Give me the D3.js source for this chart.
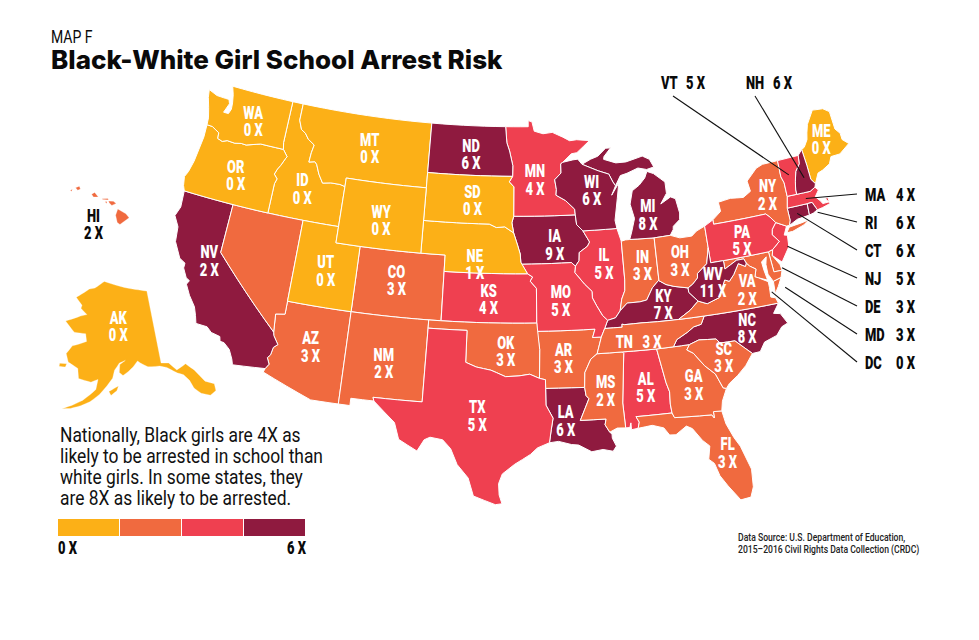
<!DOCTYPE html>
<html>
<head>
<meta charset="utf-8">
<script src="https://cdn.jsdelivr.net/npm/d3@7"></script>
<style>
  html, body { margin: 0; background: #fff; }
  text { font-family: Roboto, sans-serif; white-space: pre; }
  .title { font-family: Inter, sans-serif; font-weight: 800; font-size: 26px; fill: #0a0a0a; }
  .kicker { font-size: 18px; fill: #0a0a0a; }
  .tag { font-weight: 900; font-size: 18.5px; text-anchor: middle; }
  .callout { font-weight: 900; font-size: 18.5px; fill: #0a0a0a; }
  .note { font-size: 20px; fill: #111; }
  .source { font-size: 11.5px; font-weight: 500; fill: #222; }
</style>
</head>
<body>
<svg id="map" width="979" height="640"></svg>
<script>
// values
const stateIds = ["AK","AL","AR","AZ","CA","CO","CT","DC","DE","FL","GA","HI","IA","ID","IL","IN","KS","KY","LA","MA","MD","ME","MI","MN","MO","MS","MT","NC","ND","NE","NH","NJ","NM","NV","NY","OH","OK","OR","PA","RI","SC","SD","TN","TX","UT","VA","VT","WA","WI","WV","WY"];
const riskValues = [0,5,3,3,6,3,6,0,3,3,3,2,9,0,5,3,4,7,6,4,3,0,8,4,5,2,0,8,6,1,6,5,2,2,2,3,3,0,5,6,3,0,3,5,0,2,5,0,6,11,0];
const riskTicks = [2, 4, 6];
const riskColors = ["#fcb017", "#f06a3f", "#ef4050", "#8f1a3f"];
const legendLabels = ["0 X", "6 X"];
const noteLines = [
  "Nationally, Black girls are 4X as",
  "likely to be arrested in school than",
  "white girls. In some states, they",
  "are 8X as likely to be arrested."
];
const sourceLines = [
  "Data Source: U.S. Department of Education,",
  "2015–2016 Civil Rights Data Collection (CRDC)"
];

// state outlines as [lon, lat] rings, rough hand tracing
const shapes = {
  WA: [[[-122.76,49],[-117.03,49],[-117.04,46.42],[-116.92,46],[-118.98,46],[-119.3,45.93],[-120.2,45.72],[-120.65,45.74],[-121.2,45.65],[-121.9,45.68],[-122.3,45.55],[-122.75,45.65],[-122.8,46],[-123.2,46.15],[-123.5,46.26],[-124,46.27],[-124.05,46.7],[-124.3,47.3],[-124.6,47.9],[-124.73,48.38],[-123.9,48.17],[-123.1,48.15],[-122.75,48.15],[-122.6,47.9],[-122.9,47.3],[-122.45,47.3],[-122.3,47.6],[-122.35,48],[-122.5,48.5]]],
  OR: [[[-124,46.27],[-123.5,46.26],[-123.2,46.15],[-122.8,46],[-122.75,45.65],[-122.3,45.55],[-121.9,45.68],[-121.2,45.65],[-120.65,45.74],[-120.2,45.72],[-119.3,45.93],[-118.98,46],[-116.92,46],[-116.46,45.6],[-116.55,45.5],[-116.85,45],[-117.05,44.75],[-117.22,44.4],[-116.9,44.15],[-117.03,43.83],[-117.03,42],[-124.21,42],[-124.4,42.3],[-124.55,42.84],[-124.35,43.2],[-124.15,43.9],[-124.05,44.7],[-123.95,45.5]]],
  CA: [[[-124.21,42],[-120,42],[-120,39],[-114.63,35],[-114.57,34.8],[-114.14,34.3],[-114.43,34.08],[-114.53,33.6],[-114.72,33.4],[-114.5,33.03],[-114.72,32.72],[-117.12,32.53],[-117.25,32.85],[-117.6,33.4],[-118.1,33.73],[-118.4,33.75],[-118.5,34.03],[-119.2,34.15],[-119.6,34.42],[-120.47,34.45],[-120.65,34.9],[-120.9,35.4],[-121.5,36],[-121.95,36.6],[-121.8,36.85],[-122.1,36.97],[-122.5,37.5],[-122.5,37.8],[-123,38],[-123.7,38.9],[-123.85,39.8],[-124.35,40.4],[-124.1,41]]],
  NV: [[[-120,42],[-114.04,42],[-114.04,36.2],[-114.75,36.1],[-114.63,35],[-120,39]]],
  ID: [[[-117.03,49],[-116.05,49],[-116.05,47.97],[-115.72,47.43],[-115.3,47.25],[-114.95,46.93],[-114.33,46.65],[-114.45,46.15],[-114.5,45.56],[-114,45.65],[-113.8,45.52],[-113.45,44.95],[-113,44.45],[-112.3,44.55],[-111.5,44.55],[-111.05,44.47],[-111.05,42],[-117.03,42],[-117.03,43.83],[-116.9,44.15],[-117.22,44.4],[-117.05,44.75],[-116.85,45],[-116.55,45.5],[-116.46,45.6],[-116.92,46],[-117.04,46.42]]],
  MT: [[[-116.05,49],[-104.05,49],[-104.05,45],[-111.05,45],[-111.05,44.47],[-111.5,44.55],[-112.3,44.55],[-113,44.45],[-113.45,44.95],[-113.8,45.52],[-114,45.65],[-114.5,45.56],[-114.45,46.15],[-114.33,46.65],[-114.95,46.93],[-115.3,47.25],[-115.72,47.43],[-116.05,47.97]]],
  WY: [[[-111.05,45],[-104.05,45],[-104.05,41],[-111.05,41]]],
  UT: [[[-114.04,42],[-111.05,42],[-111.05,41],[-109.05,41],[-109.05,37],[-114.04,37]]],
  AZ: [[[-114.04,37],[-109.05,37],[-109.05,31.33],[-111.07,31.33],[-114.81,32.49],[-114.72,32.72],[-114.5,33.03],[-114.72,33.4],[-114.53,33.6],[-114.43,34.08],[-114.14,34.3],[-114.57,34.8],[-114.63,35],[-114.75,36.1],[-114.04,36.2]]],
  CO: [[[-109.05,41],[-102.05,41],[-102.05,37],[-109.05,37]]],
  NM: [[[-109.05,37],[-103,37],[-103.04,32],[-106.62,32],[-106.53,31.78],[-108.21,31.78],[-108.21,31.33],[-109.05,31.33]]],
  ND: [[[-104.05,49],[-97.23,49],[-97.1,48],[-96.85,47.5],[-96.55,46.6],[-96.56,45.94],[-104.05,45.94]]],
  SD: [[[-104.05,45.94],[-96.56,45.94],[-96.85,45.6],[-96.45,45.3],[-96.45,43.5],[-96.6,43.1],[-96.45,42.49],[-97.2,42.85],[-97.9,42.8],[-98.5,43],[-104.05,43]]],
  NE: [[[-104.05,43],[-98.5,43],[-97.9,42.8],[-97.2,42.85],[-96.45,42.49],[-96.1,41.7],[-95.9,41.2],[-95.85,40.7],[-95.31,40],[-102.05,40],[-102.05,41],[-104.05,41]]],
  KS: [[[-102.05,40],[-95.31,40],[-94.9,39.8],[-95.1,39.55],[-94.61,39.11],[-94.62,37],[-102.04,37]]],
  OK: [[[-103,37],[-94.62,37],[-94.43,35.4],[-94.48,33.64],[-95.2,33.9],[-96,33.8],[-97,33.75],[-97.65,33.98],[-98.1,34.13],[-99.2,34.3],[-100,34.56],[-100,36.5],[-103,36.5]]],
  TX: [[[-103,36.5],[-100,36.5],[-100,34.56],[-99.2,34.3],[-98.1,34.13],[-97.65,33.98],[-97,33.75],[-96,33.8],[-95.2,33.9],[-94.48,33.64],[-94.04,33.55],[-94.04,32],[-93.55,31.2],[-93.7,30.5],[-93.85,29.7],[-94.7,29.4],[-95.2,29],[-96.3,28.4],[-97.15,27.8],[-97.4,27.2],[-97.35,26.5],[-97.15,25.96],[-97.6,25.9],[-99.1,26.4],[-99.5,27.5],[-100.3,28.3],[-100.8,29.25],[-101.4,29.77],[-102.3,29.88],[-102.7,29.7],[-103.15,28.98],[-104.5,29.6],[-104.9,30.6],[-106.53,31.78],[-106.62,32],[-103.04,32]]],
  MN: [[[-97.23,49],[-95.15,49],[-95.15,49.38],[-94.8,49.3],[-94.6,48.72],[-93.8,48.55],[-92.95,48.62],[-92,48.3],[-91.4,48.06],[-90.75,48.1],[-89.6,48],[-90.8,47.3],[-91.3,47.25],[-92.1,46.75],[-92.29,46.66],[-92.29,46.1],[-92.87,45.7],[-92.75,45.1],[-92.8,44.75],[-92,44.4],[-91.25,43.85],[-91.22,43.5],[-96.45,43.5],[-96.45,45.3],[-96.85,45.6],[-96.56,45.94],[-96.55,46.6],[-96.85,47.5],[-97.1,48]]],
  IA: [[[-96.45,43.5],[-91.22,43.5],[-91.15,42.9],[-90.65,42.5],[-90.15,41.8],[-90.35,41.55],[-91.05,41.2],[-91.1,40.7],[-91.42,40.38],[-91.73,40.61],[-95.77,40.58],[-95.85,40.7],[-95.9,41.2],[-96.1,41.7],[-96.45,42.49],[-96.6,43.1]]],
  MO: [[[-95.77,40.58],[-91.73,40.61],[-91.42,40.38],[-91.5,40],[-90.75,39.25],[-90.2,38.8],[-90.2,38.4],[-89.9,37.9],[-89.5,37.3],[-89.13,36.98],[-89.4,36.5],[-89.7,36],[-90.37,36],[-90.15,36.5],[-94.62,36.5],[-94.62,37],[-94.61,39.11],[-95.1,39.55],[-94.9,39.8],[-95.31,40]]],
  AR: [[[-94.62,36.5],[-90.15,36.5],[-90.37,36],[-89.7,36],[-90.1,35],[-90.6,34.7],[-91.1,33.9],[-91.17,33],[-94.04,33.02],[-94.04,33.55],[-94.48,33.64],[-94.43,35.4]]],
  LA: [[[-94.04,33.02],[-91.17,33],[-91.1,32.5],[-90.9,32.3],[-91.6,31],[-89.75,31],[-89.85,30.65],[-89.55,30.18],[-89.4,30.05],[-89.4,29.8],[-89.15,29.3],[-89.4,29],[-90.1,29.15],[-90.9,29.05],[-91.8,29.5],[-92.3,29.55],[-93.2,29.77],[-93.85,29.7],[-93.7,30.5],[-93.55,31.2],[-94.04,32]]],
  MS: [[[-90.1,35],[-88.2,35],[-88.1,34.9],[-88.47,31.9],[-88.4,30.37],[-89,30.4],[-89.55,30.18],[-89.85,30.65],[-89.75,31],[-91.6,31],[-90.9,32.3],[-91.1,32.5],[-91.17,33],[-91.1,33.9],[-90.6,34.7]]],
  AL: [[[-88.2,35],[-85.6,34.98],[-85.18,32.87],[-85,32.3],[-85.05,31.55],[-85,31],[-87.6,31],[-87.4,30.65],[-87.52,30.28],[-88,30.23],[-88,30.65],[-88.1,30.37],[-88.4,30.37],[-88.47,31.9],[-88.1,34.9]]],
  TN: [[[-90.1,35],[-89.7,36],[-89.4,36.5],[-88.05,36.5],[-88.05,36.68],[-87.85,36.64],[-86.5,36.65],[-85.3,36.62],[-83.68,36.6],[-81.68,36.59],[-82,36.12],[-82.6,36.03],[-83.1,35.77],[-84,35.4],[-84.32,34.99],[-85.6,34.98],[-88.2,35]]],
  KY: [[[-89.4,36.5],[-89.13,36.98],[-88.5,37.1],[-88.1,37.5],[-87.5,37.93],[-86.5,37.93],[-85.95,38],[-85.4,38.7],[-84.85,39.1],[-84.3,38.8],[-83.7,38.63],[-82.6,38.42],[-82.6,38.15],[-81.97,37.54],[-82.7,37.05],[-83.68,36.6],[-85.3,36.62],[-86.5,36.65],[-87.85,36.64],[-88.05,36.68],[-88.05,36.5]]],
  IL: [[[-90.65,42.5],[-87.8,42.5],[-87.53,41.7],[-87.53,39.35],[-87.6,38.7],[-87.9,38.2],[-88.1,37.5],[-88.5,37.1],[-89.13,36.98],[-89.5,37.3],[-89.9,37.9],[-90.2,38.4],[-90.2,38.8],[-90.75,39.25],[-91.5,40],[-91.42,40.38],[-91.1,40.7],[-91.05,41.2],[-90.35,41.55],[-90.15,41.8]]],
  IN: [[[-87.53,41.7],[-87.2,41.76],[-86.82,41.76],[-84.8,41.7],[-84.82,39.1],[-84.85,39.1],[-85.4,38.7],[-85.95,38],[-86.5,37.93],[-87.5,37.93],[-88.1,37.5],[-87.9,38.2],[-87.6,38.7],[-87.53,39.35]]],
  OH: [[[-84.8,41.7],[-83.45,41.73],[-82.7,41.5],[-81.7,41.5],[-81.25,41.76],[-80.52,41.98],[-80.52,40.64],[-80.85,39.7],[-81.7,39.2],[-81.75,38.93],[-82.2,38.6],[-82.6,38.42],[-83.7,38.63],[-84.3,38.8],[-84.85,39.1],[-84.82,39.1]]],
  MI: [[[-86.82,41.76],[-84.8,41.7],[-83.45,41.73],[-83.15,42.05],[-83.1,42.25],[-82.5,42.6],[-82.42,43],[-82.6,43.9],[-83,44.05],[-83.9,43.7],[-83.3,44.3],[-83.3,45],[-84.2,45.6],[-84.75,45.78],[-85,45.4],[-85.55,45],[-86.2,44.7],[-86.5,43.9],[-86.25,43],[-86.6,42.2]],
       [[-90.4,46.57],[-89.6,46.85],[-88.95,47],[-88.2,47.45],[-87.75,47.45],[-88.4,46.95],[-88.45,46.78],[-87.4,46.5],[-86.5,46.5],[-85,46.75],[-84.4,46.5],[-84.1,46],[-84.75,45.9],[-85.5,46.05],[-86.5,45.8],[-87.1,45.7],[-87.6,45.1],[-87.8,45.35],[-88.1,45.85],[-89,46.1]]],
  WI: [[[-92.1,46.75],[-91.2,46.87],[-90.75,46.9],[-90.4,46.57],[-89,46.1],[-88.1,45.85],[-87.8,45.35],[-87.6,45.1],[-88,44.55],[-87.3,45.25],[-87.55,44.3],[-87.9,43],[-87.8,42.5],[-90.65,42.5],[-91.15,42.9],[-91.22,43.5],[-91.25,43.85],[-92,44.4],[-92.8,44.75],[-92.75,45.1],[-92.87,45.7],[-92.29,46.1],[-92.29,46.66]]],
  GA: [[[-85.6,34.98],[-84.32,34.99],[-83.1,35],[-83.35,34.7],[-82.9,34.45],[-82.2,33.6],[-81.5,33],[-81.1,32.1],[-80.87,32.03],[-81.3,31.3],[-81.45,30.72],[-82.05,30.75],[-82.05,30.36],[-82.2,30.57],[-84.86,30.7],[-85,31],[-85.05,31.55],[-85,32.3],[-85.18,32.87]]],
  FL: [[[-87.6,31],[-85,31],[-84.86,30.7],[-82.2,30.57],[-82.05,30.36],[-82.05,30.75],[-81.45,30.72],[-81.3,29.9],[-80.9,29],[-80.55,28.4],[-80.05,26.9],[-80.13,25.8],[-80.4,25.2],[-81.1,25.13],[-81.8,26.1],[-82.25,26.8],[-82.5,27.6],[-82.85,27.9],[-82.65,28.7],[-83.1,29.1],[-83.7,29.9],[-84.1,30.1],[-84.9,29.65],[-85.35,29.68],[-85.7,30.15],[-86.5,30.38],[-87.52,30.28],[-87.4,30.65]]],
  SC: [[[-83.1,35],[-82.35,35.2],[-81.05,35.1],[-80.8,34.82],[-79.67,34.8],[-78.55,33.86],[-79.2,33.2],[-79.9,32.7],[-80.6,32.3],[-80.87,32.03],[-81.1,32.1],[-81.5,33],[-82.2,33.6],[-82.9,34.45],[-83.35,34.7]]],
  NC: [[[-84.32,34.99],[-84,35.4],[-83.1,35.77],[-82.6,36.03],[-82,36.12],[-81.68,36.59],[-75.87,36.55],[-76.4,36],[-75.9,35.9],[-75.5,35.25],[-76,35.1],[-76.5,34.65],[-77.5,34.4],[-77.95,33.88],[-78.55,33.86],[-79.67,34.8],[-80.8,34.82],[-81.05,35.1],[-82.35,35.2],[-83.1,35]]],
  VA: [[[-83.68,36.6],[-81.68,36.59],[-75.87,36.55],[-76,36.9],[-76.35,37],[-76.3,37.6],[-76.3,37.95],[-77,38.3],[-77.25,38.4],[-77.05,38.85],[-77.5,39.1],[-77.72,39.32],[-77.83,39.13],[-78.35,39.38],[-78.87,38.77],[-79.3,38.42],[-79.65,38.55],[-80.3,37.55],[-81.3,37.3],[-81.97,37.54],[-82.7,37.05]],
       [[-75.25,38.03],[-75.9,37.9],[-75.95,37.15],[-75.6,37.55]]],
  WV: [[[-80.52,40.64],[-80.52,39.72],[-79.48,39.72],[-79.48,39.2],[-78.45,39.6],[-77.85,39.6],[-77.72,39.32],[-77.83,39.13],[-78.35,39.38],[-78.87,38.77],[-79.3,38.42],[-79.65,38.55],[-80.3,37.55],[-81.3,37.3],[-81.97,37.54],[-82.6,38.15],[-82.6,38.42],[-82.2,38.6],[-81.75,38.93],[-81.7,39.2],[-80.85,39.7]]],
  MD: [[[-79.48,39.72],[-75.79,39.72],[-75.7,38.46],[-75.05,38.45],[-75.25,38.03],[-75.9,37.9],[-76.2,38.4],[-76.2,39],[-76.05,39.45],[-76.5,39.2],[-76.45,38.7],[-76.32,38.05],[-77,38.3],[-77.25,38.4],[-77.05,38.85],[-77.5,39.1],[-77.72,39.32],[-77.85,39.6],[-78.45,39.6],[-79.48,39.2]]],
  DC: [[[-77.12,38.93],[-77.04,39],[-76.91,38.89],[-77.04,38.79]]],
  DE: [[[-75.79,39.72],[-75.42,39.8],[-75.55,39.45],[-75.1,38.8],[-75.05,38.45],[-75.7,38.46]]],
  PA: [[[-80.52,41.98],[-79.76,42.27],[-79.76,42],[-75.35,42],[-75.05,41.75],[-74.7,41.36],[-75.1,41],[-75.2,40.68],[-74.75,40.2],[-75.42,39.8],[-75.79,39.72],[-80.52,39.72]]],
  NJ: [[[-74.7,41.36],[-73.9,41],[-74.25,40.5],[-74,40.45],[-74.1,39.75],[-74.9,38.93],[-75.55,39.45],[-75.42,39.8],[-74.75,40.2],[-75.2,40.68],[-75.1,41]]],
  NY: [[[-79.76,42.27],[-79.76,42],[-75.35,42],[-75.05,41.75],[-74.7,41.36],[-73.9,41],[-73.65,41],[-73.5,41.3],[-73.5,42.05],[-73.27,42.75],[-73.25,43.6],[-73.4,44],[-73.35,45.01],[-74.7,45],[-75.3,44.85],[-76.3,44.2],[-76.2,43.55],[-76.9,43.27],[-78,43.37],[-79.05,43.27],[-79,42.7]],
       [[-74,40.6],[-73.7,40.9],[-72.6,40.98],[-72,41.05],[-72.5,40.82],[-73.5,40.6]]],
  VT: [[[-73.35,45.01],[-71.5,45.01],[-71.6,44.5],[-72.05,44.1],[-72.3,43.5],[-72.45,43],[-72.46,42.73],[-73.27,42.75],[-73.25,43.6],[-73.4,44]]],
  NH: [[[-71.5,45.01],[-71.08,45.3],[-71,44.3],[-70.98,43.4],[-70.7,43.07],[-70.82,42.87],[-71.3,42.7],[-72.46,42.73],[-72.45,43],[-72.3,43.5],[-72.05,44.1],[-71.6,44.5]]],
  ME: [[[-71.08,45.3],[-70.8,45.4],[-70.4,45.8],[-70.25,46.2],[-70,46.7],[-69.23,47.46],[-69,47.43],[-68.3,47.36],[-67.8,47.07],[-67.78,45.95],[-67.45,45.6],[-67.45,45.2],[-67,44.85],[-68,44.4],[-68.8,44.4],[-69.1,44],[-69.8,43.75],[-70.25,43.65],[-70.7,43.07],[-70.98,43.4],[-71,44.3]]],
  MA: [[[-73.5,42.05],[-73.27,42.75],[-72.46,42.73],[-71.3,42.7],[-70.82,42.87],[-70.6,42.65],[-71,42.3],[-70.65,41.95],[-70.55,41.78],[-70,41.78],[-70,42.05],[-70.25,42.05],[-69.95,41.67],[-70.65,41.55],[-71.12,41.5],[-71.2,41.67],[-71.38,42.02],[-71.8,42.02]]],
  RI: [[[-71.8,42.02],[-71.38,42.02],[-71.2,41.67],[-71.12,41.5],[-71.5,41.37],[-71.85,41.32]]],
  CT: [[[-73.5,42.05],[-71.8,42.02],[-71.85,41.32],[-72.9,41.25],[-73.65,41],[-73.5,41.3]]],
  AK: [[[-141,69.65],[-144,70],[-148,70.4],[-152,70.85],[-156.6,71.35],[-160,70.4],[-162,70.2],[-166.2,68.9],[-163.8,68],[-164,67.6],[-161.8,66.9],[-163.8,66.6],[-168.1,65.65],[-164.9,64.45],[-161.5,64.45],[-161,63.5],[-163,63.05],[-164.8,62.7],[-166.1,61.6],[-165.2,60.6],[-162.5,59.97],[-162,58.7],[-158.9,58.4],[-157.2,58.8],[-157.6,57.5],[-158.9,56.8],[-160.5,56],[-162.8,55.2],[-164.9,54.6],[-163,54.8],[-160.8,55.3],[-158.8,55.9],[-156.7,56.9],[-155,58],[-153.6,59],[-153.1,60],[-151.8,60.9],[-150.2,61.2],[-151.7,60.7],[-151.9,59.7],[-151,59.3],[-149.5,59.8],[-148.3,60.3],[-147,61],[-146.3,60.7],[-144.5,60.1],[-141.5,59.95],[-139.8,59.6],[-137.5,58.6],[-136.2,58.2],[-135.2,57.3],[-134.7,56.2],[-133.5,55.3],[-131.7,54.7],[-130.2,55],[-130,55.9],[-131.8,56.6],[-133.4,58.4],[-135,59.45],[-137.5,59],[-139.1,60.1],[-141,60.3]],
       [[-154.5,57.3],[-153.2,57.7],[-152.2,58],[-152.6,57.4],[-154,56.8]],
       [[-167.3,60.25],[-165.5,60.35],[-165.7,59.9],[-167.3,59.85]]],
  HI: [[[-160.25,21.85],[-160.05,22],[-160.1,21.8]],
       [[-159.75,22.1],[-159.4,22.23],[-159.3,22],[-159.55,21.88]],
       [[-158.27,21.55],[-157.98,21.7],[-157.65,21.3],[-158.1,21.3]],
       [[-157.3,21.15],[-156.75,21.17],[-156.72,21.05],[-157.25,21.08]],
       [[-157.05,20.9],[-156.85,20.92],[-156.85,20.75]],
       [[-156.7,20.95],[-156.25,20.93],[-156,20.75],[-156.4,20.58],[-156.65,20.8]],
       [[-156.05,19.73],[-155.85,20.27],[-155.1,19.85],[-154.8,19.5],[-155.65,18.92],[-155.9,19.1]]]
};

// projections: lower 48 plus the two insets
const mainProj = d3.geoAlbers().rotate([96, 0]).center([0, 37.5]).parallels([29.5, 45.5]).scale(935).translate([519, 315]);
const akProj = d3.geoConicEqualArea().rotate([154, 0]).center([0, 62]).parallels([55, 65]).scale(450).translate([111, 354.5]);
const hiProj = d3.geoMercator().center([-157.4, 20.7]).scale(620).translate([101, 204]);
const projFor = id => id === "AK" ? akProj : id === "HI" ? hiProj : mainProj;

// label anchors in lon/lat
const labelAt = {
  WA:[-120.1,47.2], OR:[-120.4,43.75], NV:[-120.7,38.3], ID:[-114.6,43.85], MT:[-109.4,47], WY:[-107.6,42.7], UT:[-111.5,39.2],
  AZ:[-111.7,34.5], CO:[-105.8,39.2], NM:[-106.1,34.1], ND:[-100.3,47.2], SD:[-100,44.4], NE:[-99.6,40.5], KS:[-98.4,38.4], OK:[-97,35.25],
  TX:[-99,31.3], MN:[-94.6,45.7], IA:[-93.05,41.7], MO:[-92.7,38.3], AR:[-92.65,34.8], LA:[-92.65,31], MS:[-89.65,32.7], AL:[-86.7,32.7],
  TN:[-86.9,35.5], KY:[-84.7,37.6], IL:[-89.1,40.4], IN:[-86,40.1], OH:[-82.95,40.1], WI:[-89.7,44.9], MI:[-85.1,43.1], WV:[-80.6,38.5],
  VA:[-78.05,37.7], NC:[-78.6,35.4], SC:[-80.7,33.9], GA:[-83.2,32.5], FL:[-81.5,28.1], PA:[-77.7,40.7], NY:[-74.85,43.1], ME:[-69.2,45.55],
  AK:[-151.8,65.5], HI:[-158.1,18.9]
};
// small states labelled outside the map: leader from the label to a spot on the map
const calloutIds = ["VT","NH","MA","RI","CT","NJ","DE","MD","DC"];
const calloutTargets = [[-72.7,44],[-71.5,43.6],[-71.8,42.35],[-71.15,41.35],[-72.8,41.6],[-74.2,39.8],[-75,38.6],[-75.1,37.4],[-76.2,37.3]];

const svg = d3.select("#map");
const riskColor = d3.scaleThreshold().domain(riskTicks).range(riskColors);
const riskOf = id => riskValues[stateIds.indexOf(id)];
const lineGen = d3.line();
const NARROW = 0.7;

// straight lon/lat edges get split up so the long borders follow the parallels
function ringPath(ring, proj) {
  const pts = [];
  ring.forEach((p, i) => {
    const q = ring[(i + 1) % ring.length];
    const steps = Math.max(1, Math.ceil(Math.abs(q[0] - p[0])));
    d3.range(steps).forEach(s => pts.push(proj([p[0] + (q[0] - p[0]) * s / steps, p[1] + (q[1] - p[1]) * s / steps])));
  });
  return lineGen(pts) + "Z";
}

// no condensed face is installed, so squeeze the text sideways
const squeeze = (x, y, k) => `translate(${x},${y}) scale(${k},1)`;

// one text element with a tspan per line
function addLines(text, lines, pitch) {
  text.selectAll("tspan").data(lines).join("tspan")
    .attr("x", 0).attr("y", (d, i) => i * pitch).text(d => d);
}

// title
svg.append("text").attr("class", "kicker").attr("transform", squeeze(51, 43, 0.78)).text("MAP F");
svg.append("text").attr("class", "title").attr("x", 51).attr("y", 69).text("Black-White Girl School Arrest Risk");

// states
svg.append("g").selectAll("path").data(stateIds).join("path")
  .attr("d", id => shapes[id].map(r => ringPath(r, projFor(id))).join(""))
  .attr("fill", id => riskColor(riskOf(id)))
  .attr("stroke", "#fff")
  .attr("stroke-width", id => id === "AK" || id === "HI" ? 0.3 : 1)
  .attr("stroke-linejoin", "round");

// labels in the states
const tags = stateIds.filter(id => labelAt[id]);
svg.append("g").selectAll("text").data(tags).join("text")
  .attr("class", "tag")
  .attr("fill", id => id === "HI" ? "#0a0a0a" : "#fff")
  .attr("transform", id => {
    const [x, y] = projFor(id)(labelAt[id]);
    return squeeze(x, y + (id === "TN" ? 6 : -3), NARROW);
  })
  .each(function(id) {
    const lines = id === "TN" ? [`${id}   ${riskOf(id)} X`] : [id, `${riskOf(id)} X`];
    addLines(d3.select(this), lines, 17.5);
  });

// callouts
const sideRow = d3.scalePoint().domain(calloutIds.slice(2)).range([201, 369]);
const topX = d3.scalePoint().domain(calloutIds.slice(0, 2)).range([661, 746]);
calloutIds.forEach((id, i) => {
  const end = mainProj(calloutTargets[i]);
  const top = i < 2;
  const x = top ? topX(id) : 865;
  const y = top ? 89 : sideRow(id);
  const valueX = top ? x + (i ? 27 : 25) : 896;
  svg.append("line")
    .attr("x1", top ? x + (i ? 9 : 12) : 857).attr("y1", top ? 96 : y - 7)
    .attr("x2", end[0]).attr("y2", end[1])
    .attr("stroke", "#111").attr("stroke-width", 1.1);
  svg.append("text").attr("class", "callout").attr("transform", squeeze(x, y, NARROW)).text(id);
  svg.append("text").attr("class", "callout").attr("transform", squeeze(valueX, y, NARROW)).text(`${riskOf(id)} X`);
});

// note
svg.append("text").attr("class", "note").attr("transform", squeeze(60, 442, 0.87)).call(addLines, noteLines, 21);

// legend
const legendX = d3.scaleBand().domain(riskColors).range([58, 306]);
svg.append("g").selectAll("rect").data(riskColors).join("rect")
  .attr("x", d => legendX(d)).attr("y", 519).attr("width", legendX.bandwidth() - 1).attr("height", 17).attr("fill", d => d);
svg.append("text").attr("class", "callout").attr("transform", squeeze(58, 554, NARROW)).text(legendLabels[0]);
svg.append("text").attr("class", "callout").attr("text-anchor", "end").attr("transform", squeeze(306, 554, NARROW)).text(legendLabels[1]);

// source
svg.append("text").attr("class", "source").attr("transform", squeeze(738, 541, 0.75)).call(addLines, sourceLines, 12.5);
</script>
</body>
</html>
